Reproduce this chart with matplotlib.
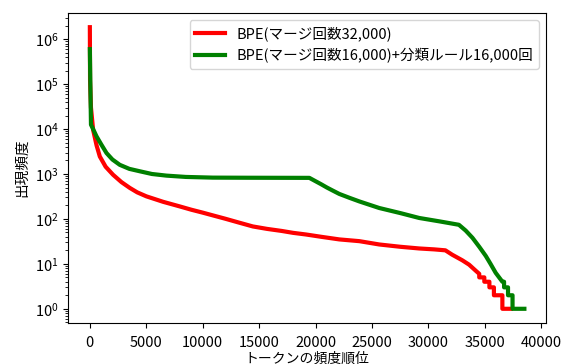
import matplotlib
matplotlib.use("Agg")
import matplotlib.pyplot as plt

plt.rcParams['font.family'] = ['Noto Sans CJK JP', 'DejaVu Sans']
plt.rcParams['font.size'] = 10.5

# Rank vs. frequency, BPE with 32,000 merges
bpe_rank = [1, 20, 100, 290, 600, 884, 1400, 2060, 2800, 3540, 4200, 5010, 6500, 7960,
            9000, 10000, 11000, 12000, 13200, 14440, 15700, 17000, 18000, 19160, 20500,
            22100, 23880, 25640, 27500, 29180, 30500, 31500, 32100, 33000, 33600,
            34200, 34500, 34501, 34950, 34951, 35400, 35401, 35800, 35801, 36550,
            36551, 37300]
bpe_freq = [1.85e6, 1.2e5, 3.0e4, 9.6e3, 4.3e3, 2.45e3, 1.45e3, 960, 660, 490, 390,
            318, 240, 190, 160, 138, 118, 101, 83, 68, 60, 54, 49, 45, 40, 35, 32,
            27, 24, 22, 21, 20, 16, 12, 9.6, 7, 6, 5, 5, 4, 4, 3, 3, 2, 2, 1, 1]

# BPE with 16,000 merges followed by 16,000 classification rules
mix_rank = [1, 100, 250, 590, 1000, 1475, 2000, 2650, 3500, 4420, 5500, 6780, 8500,
            10900, 14000, 17000, 19450, 20000, 20500, 21000, 21500, 22100, 23000,
            23880, 25640, 27500, 29180, 31000, 32700, 33300, 33900, 34500, 35080,
            35500, 35960, 36550, 36700, 36701, 37050, 37051, 37450, 37451, 38500]
mix_freq = [6.0e5, 1.25e4, 1.05e4, 6.9e3, 4.6e3, 2.93e3, 2.1e3, 1.6e3, 1.3e3, 1.15e3,
            1.0e3, 920, 860, 830, 825, 822, 820, 690, 590, 500, 430, 360, 295,
            245, 175, 135, 105, 88, 74, 55, 38, 24, 15, 10, 6.3, 4, 4, 3, 3, 2, 2,
            1, 1]

label_bpe = "BPE(マージ回数32,000)"
label_mix = "BPE(マージ回数16,000)+分類ルール16,000回"

fig = plt.figure(figsize=(5.63, 3.64), dpi=100)
ax = fig.add_axes([0.121, 0.113, 0.849, 0.851])

ax.plot(bpe_rank, bpe_freq, color="red", lw=3, label=label_bpe)
ax.plot(mix_rank, mix_freq, color="green", lw=3, label=label_mix)

ax.set_yscale("log")
ax.set_xticks([0, 5000, 10000, 15000, 20000, 25000, 30000, 35000, 40000])
ax.tick_params(axis="x", pad=6, labelsize=10.5)
ax.set_xlabel("トークンの頻度順位", fontsize=10)
ax.xaxis.label.set_va("center")
ax.xaxis.set_label_coords(0.5, -0.115)
ax.set_ylabel("出現頻度")
ax.legend(loc="upper right", labelspacing=0.45)

fig.savefig("out.png", dpi=100)
